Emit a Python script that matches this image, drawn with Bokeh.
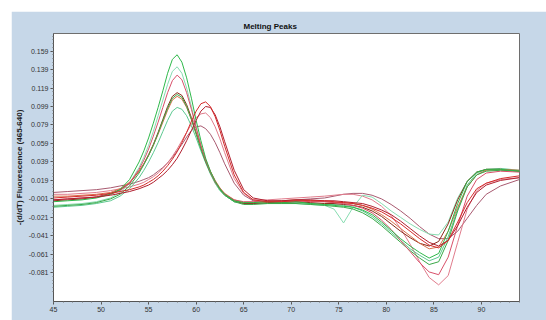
from bokeh.plotting import figure
from bokeh.models import Range1d, FixedTicker, NumeralTickFormatter, Label
from bokeh.embed import file_html
from bokeh.resources import INLINE

# Temperature samples (°C)
temps = [45, 46.5, 48, 49.5, 51,
         52, 53, 54,
         54.5, 55, 55.5, 56, 56.5, 57, 57.5, 58, 58.5, 59, 59.5, 60, 60.5, 61, 61.5, 62, 62.5, 63,
         64, 65, 66,
         67.5, 69, 70.5, 72, 73.5,
         74.5, 75.5, 76.5, 77.5, 78.5, 79.5, 80.5, 81.5, 82.5, 83.5, 84.5, 85.5, 86.5, 87.5, 88.5, 89.5, 90.5,
         92, 94]

g1 = [-0.004, -0.003, -0.002, 0.000, 0.004,
      0.009, 0.020, 0.039,
      0.051, 0.065, 0.081, 0.098, 0.116, 0.135, 0.150, 0.155, 0.147, 0.130, 0.108, 0.084, 0.062, 0.043, 0.029, 0.018, 0.010, 0.004,
      -0.003, -0.005, -0.005,
      -0.004, -0.005, -0.004, -0.006, -0.007,
      -0.008, -0.009, -0.010, -0.013, -0.018, -0.026, -0.035, -0.044, -0.052, -0.059, -0.065, -0.060, -0.036, -0.006, 0.018, 0.028, 0.031,
      0.031, 0.029]

g2 = [-0.008, -0.007, -0.006, -0.004, 0.000,
      0.006, 0.016, 0.033,
      0.044, 0.057, 0.072, 0.089, 0.106, 0.123, 0.137, 0.142, 0.135, 0.119, 0.099, 0.077, 0.057, 0.040, 0.027, 0.016, 0.008, 0.003,
      -0.004, -0.006, -0.006,
      -0.005, -0.006, -0.006, -0.007, -0.008,
      -0.012, -0.027, -0.010, 0.003, 0.001, -0.006, -0.014, -0.021, -0.028, -0.034, -0.039, -0.040, -0.026, 0.000, 0.018, 0.027, 0.030,
      0.030, 0.029]

r1 = [-0.002, -0.001, 0.000, 0.001, 0.004,
      0.008, 0.016, 0.031,
      0.041, 0.053, 0.067, 0.082, 0.098, 0.114, 0.127, 0.133, 0.128, 0.114, 0.096, 0.076, 0.057, 0.041, 0.028, 0.017, 0.010, 0.004,
      -0.002, -0.004, -0.004,
      -0.003, -0.004, -0.003, -0.004, -0.004,
      -0.005, -0.006, -0.008, -0.011, -0.016, -0.024, -0.034, -0.046, -0.058, -0.070, -0.080, -0.083, -0.064, -0.030, 0.002, 0.020, 0.027,
      0.029, 0.028]

d1 = [-0.003, -0.002, -0.001, 0.001, 0.005,
      0.009, 0.016, 0.029,
      0.037, 0.047, 0.058, 0.071, 0.085, 0.099, 0.110, 0.114, 0.111, 0.101, 0.087, 0.071, 0.055, 0.040, 0.028, 0.018, 0.010, 0.004,
      -0.003, -0.006, -0.006,
      -0.005, -0.005, -0.004, -0.005, -0.006,
      -0.006, -0.007, -0.008, -0.010, -0.014, -0.020, -0.028, -0.036, -0.043, -0.049, -0.052, -0.047, -0.028, -0.002, 0.018, 0.028, 0.031,
      0.031, 0.029]

r2 = [0.002, 0.002, 0.003, 0.004, 0.006,
      0.010, 0.017, 0.029,
      0.037, 0.046, 0.057, 0.069, 0.082, 0.095, 0.106, 0.110, 0.107, 0.098, 0.085, 0.070, 0.055, 0.041, 0.029, 0.019, 0.011, 0.005,
      -0.002, -0.005, -0.005,
      -0.004, -0.003, -0.002, -0.003, -0.004,
      -0.005, -0.005, -0.006, -0.008, -0.012, -0.018, -0.025, -0.033, -0.041, -0.049, -0.055, -0.053, -0.036, -0.010, 0.012, 0.025, 0.030,
      0.031, 0.030]

g3 = [-0.010, -0.009, -0.008, -0.006, -0.003,
      0.002, 0.010, 0.022,
      0.030, 0.039, 0.049, 0.060, 0.072, 0.084, 0.094, 0.098, 0.096, 0.089, 0.078, 0.065, 0.051, 0.038, 0.026, 0.016, 0.008, 0.003,
      -0.004, -0.006, -0.006,
      -0.006, -0.006, -0.005, -0.006, -0.007,
      -0.007, -0.008, -0.010, -0.014, -0.020, -0.028, -0.037, -0.046, -0.055, -0.062, -0.068, -0.064, -0.042, -0.012, 0.014, 0.027, 0.031,
      0.032, 0.030]

g4 = [-0.009, -0.008, -0.007, -0.005, -0.001,
      0.004, 0.013, 0.027,
      0.036, 0.046, 0.057, 0.070, 0.084, 0.097, 0.108, 0.112, 0.109, 0.099, 0.085, 0.069, 0.053, 0.039, 0.027, 0.017, 0.009, 0.003,
      -0.004, -0.007, -0.007,
      -0.006, -0.006, -0.006, -0.007, -0.008,
      -0.009, -0.010, -0.012, -0.016, -0.022, -0.030, -0.039, -0.048, -0.057, -0.065, -0.072, -0.069, -0.046, -0.014, 0.012, 0.025, 0.029,
      0.030, 0.029]

b1 = [0.000, 0.001, 0.002, 0.003, 0.005,
      0.007, 0.009, 0.012,
      0.014, 0.017, 0.020, 0.024, 0.029, 0.035, 0.042, 0.050, 0.060, 0.071, 0.083, 0.094, 0.102, 0.104, 0.099, 0.088, 0.073, 0.056,
      0.025, 0.006, -0.002,
      -0.004, -0.004, -0.003, -0.003, -0.003,
      -0.004, -0.005, -0.006, -0.008, -0.011, -0.015, -0.021, -0.028, -0.036, -0.044, -0.051, -0.054, -0.046, -0.026, -0.005, 0.010, 0.016,
      0.021, 0.024]

b2 = [-0.002, -0.001, 0.000, 0.001, 0.003,
      0.005, 0.007, 0.010,
      0.012, 0.014, 0.017, 0.021, 0.025, 0.030, 0.036, 0.043, 0.052, 0.062, 0.073, 0.084, 0.094, 0.099, 0.098, 0.090, 0.077, 0.061,
      0.030, 0.009, 0.000,
      -0.003, -0.003, -0.002, -0.002, -0.003,
      -0.003, -0.004, -0.005, -0.006, -0.009, -0.013, -0.018, -0.025, -0.033, -0.041, -0.048, -0.052, -0.046, -0.030, -0.010, 0.006, 0.014,
      0.019, 0.022]

b3 = [0.004, 0.004, 0.005, 0.006, 0.008,
      0.010, 0.012, 0.015,
      0.017, 0.020, 0.023, 0.027, 0.032, 0.038, 0.045, 0.053, 0.062, 0.071, 0.080, 0.087, 0.091, 0.092, 0.087, 0.077, 0.064, 0.049,
      0.021, 0.005, -0.002,
      -0.002, -0.001, 0.000, 0.001, 0.002,
      0.003, 0.004, 0.004, 0.002, -0.002, -0.009, -0.019, -0.033, -0.050, -0.069, -0.086, -0.094, -0.084, -0.048, -0.012, 0.008, 0.016,
      0.020, 0.022]

b4 = [0.006, 0.007, 0.008, 0.009, 0.011,
      0.013, 0.015, 0.018,
      0.020, 0.022, 0.025, 0.029, 0.033, 0.038, 0.044, 0.051, 0.058, 0.066, 0.073, 0.077, 0.078, 0.075, 0.069, 0.060, 0.049, 0.037,
      0.016, 0.003, -0.003,
      -0.004, -0.003, -0.002, -0.001, 0.000,
      0.002, 0.004, 0.005, 0.005, 0.003, -0.001, -0.007, -0.014, -0.022, -0.031, -0.039, -0.044, -0.044, -0.036, -0.022, -0.008, 0.004,
      0.013, 0.020]

series = [
    (b4, "#a85a70"), (b3, "#e07c8c"), (g3, "#5cc890"), (g2, "#86dcb0"),
    (d1, "#8a2a1a"), (r2, "#d8704c"), (g4, "#3aa848"), (r1, "#d8506a"),
    (g1, "#2eb84a"), (b2, "#b01e2e"), (b1, "#d42a2a"),
]

x_ticks = [45, 50, 55, 60, 65, 70, 75, 80, 85, 90]
y_ticks = [-0.081, -0.061, -0.041, -0.021, -0.001, 0.019, 0.039, 0.059, 0.079, 0.099, 0.119, 0.139, 0.159]

p = figure(width=535, height=309, output_backend="svg", toolbar_location=None,
           x_range=Range1d(45, 94), y_range=Range1d(-0.112, 0.178),
           background_fill_color="white", border_fill_color="#c6d7e8",
           min_border_left=38, min_border_right=27, min_border_top=22, min_border_bottom=19)
p.margin = (11, 0, 0, 11)
p.outline_line_color = "#6e6e6e"
p.xgrid.visible = False
p.ygrid.visible = False

p.title.text = "Melting Peaks"
p.title.align = "left"
p.title.offset = 190
p.title.standoff = 5
p.title.text_font = "Liberation Sans"
p.title.text_font_size = "8px"
p.title.text_font_style = "bold"
p.title.text_color = "#111111"

for ys, c in series:
    p.line(temps, ys, line_color=c, line_width=1)

p.xaxis.ticker = FixedTicker(ticks=x_ticks, minor_ticks=list(range(45, 95)))
p.yaxis.ticker = FixedTicker(ticks=y_ticks,
                             minor_ticks=[round(-0.101 + 0.004 * i, 3) for i in range(70)])
p.yaxis.formatter = NumeralTickFormatter(format="0.000")

for ax in (p.xaxis[0], p.yaxis[0]):
    ax.axis_line_color = "#555555"
    ax.major_tick_line_color = "#555555"
    ax.minor_tick_line_color = "#777777"
    ax.major_tick_out = 3
    ax.major_tick_in = 0
    ax.minor_tick_out = 1
    ax.minor_tick_in = 0
    ax.major_label_standoff = 2
    ax.major_label_text_font = "Liberation Sans"
    ax.major_label_text_font_size = "7px"
    ax.major_label_text_color = "#333333"

p.yaxis.axis_label = "-(d/dT) Fluorescence (465-640)"
p.yaxis.axis_label_text_font = "Liberation Sans"
p.yaxis.axis_label_text_font_size = "8px"
p.yaxis.axis_label_text_font_style = "bold"
p.yaxis.axis_label_text_color = "#222222"
p.yaxis.axis_label_standoff = 2

p.add_layout(Label(x=69.5, y=-0.1232, text="Temperature (°C)", text_align="center",
                   text_baseline="top", text_font="Liberation Sans", text_font_size="7px",
                   text_font_style="bold", text_color="#222222"))

open("out.html", "w").write(file_html(p, INLINE))
